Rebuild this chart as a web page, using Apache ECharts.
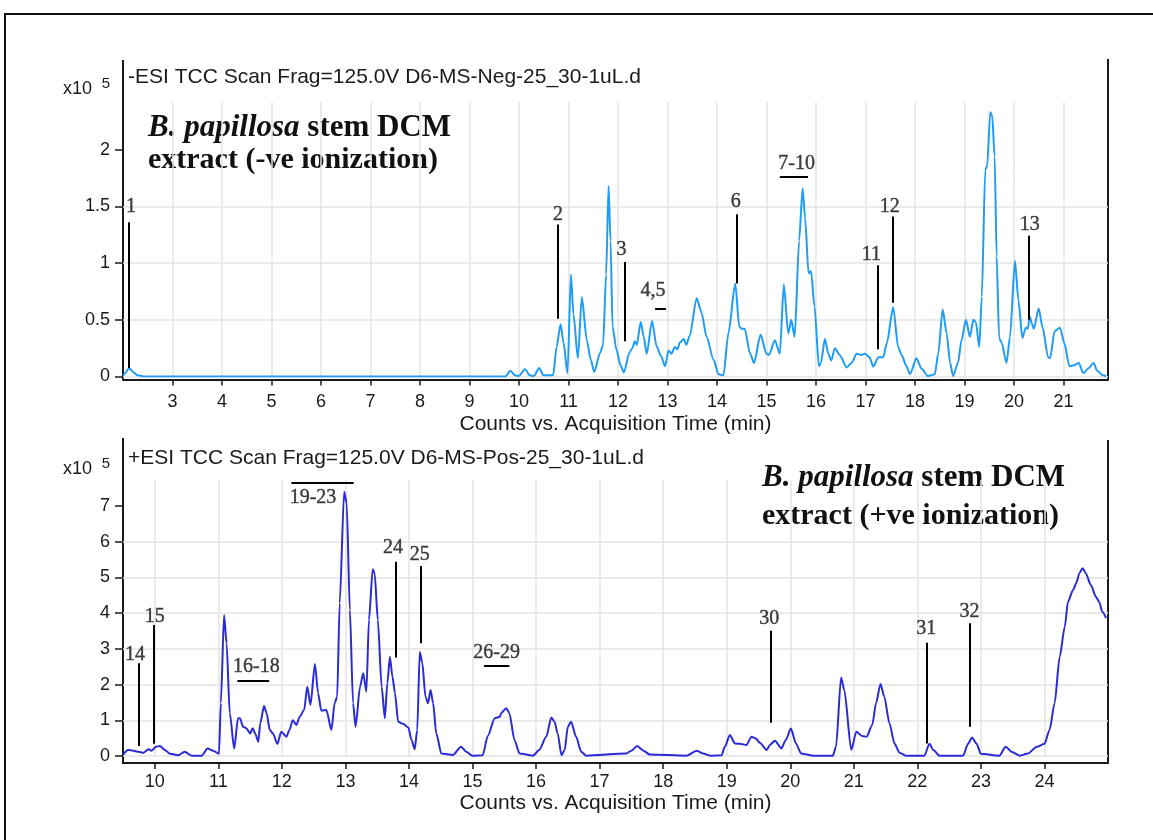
<!DOCTYPE html>
<html><head><meta charset="utf-8">
<script src="https://cdn.jsdelivr.net/npm/echarts@6/dist/echarts.min.js"></script>
<style>html,body{margin:0;padding:0;background:#fff}#c{width:1153px;height:840px}</style>
</head><body><div id="c"></div>
<script>
// ---------- Negative ionization chromatogram (x10^5 counts) ----------
const negTime = [2.0,2.05,2.1,2.14,2.2,2.3,2.45,9.72,9.83,9.92,10.0,10.12,10.22,10.3,10.41,10.49,10.69,10.76,10.84,10.9,10.98,11.05,11.1,11.19,11.27,11.37,11.45,11.52,11.64,11.70,11.76,11.81,11.85,11.89,11.97,12.05,12.12,12.23,12.29,12.34,12.38,12.46,12.52,12.58,12.69,12.78,12.87,12.95,13.02,13.08,13.15,13.2,13.25,13.33,13.38,13.45,13.59,13.69,13.79,13.93,14.03,14.13,14.23,14.37,14.45,14.5,14.56,14.67,14.75,14.88,15.0,15.05,15.17,15.27,15.35,15.44,15.5,15.57,15.66,15.73,15.78,15.85,15.9,15.97,16.06,16.1,16.18,16.25,16.31,16.38,16.48,16.62,16.72,16.82,16.92,16.99,17.08,17.16,17.26,17.36,17.43,17.56,17.66,17.73,17.83,17.9,18.03,18.13,18.26,18.4,18.47,18.56,18.64,18.71,18.77,18.87,18.94,19.03,19.11,19.18,19.23,19.30,19.35,19.42,19.46,19.52,19.56,19.61,19.65,19.70,19.75,19.85,19.92,20.02,20.09,20.17,20.24,20.28,20.32,20.36,20.40,20.50,20.58,20.69,20.73,20.82,20.93,21.02,21.12,21.21,21.31,21.4,21.5,21.61,21.68,21.80,21.86];
const negVal  = [0.01,0.03,0.065,0.07,0.04,0.01,0.0,0.0,0.05,0.01,0.005,0.065,0.01,0.005,0.075,0.01,0.01,0.26,0.46,0.3,0.03,0.9,0.55,0.16,0.7,0.32,0.15,0.04,0.21,0.28,0.9,1.68,1.2,0.44,0.235,0.1,0.035,0.21,0.25,0.31,0.28,0.48,0.35,0.2,0.49,0.265,0.18,0.09,0.23,0.2,0.26,0.24,0.3,0.33,0.28,0.36,0.69,0.56,0.35,0.15,0.02,0.01,0.38,0.82,0.44,0.42,0.42,0.2,0.12,0.37,0.2,0.19,0.32,0.2,0.81,0.38,0.5,0.35,1.2,1.66,1.4,0.91,0.93,0.62,0.09,0.12,0.33,0.2,0.14,0.25,0.19,0.08,0.12,0.2,0.19,0.2,0.17,0.087,0.17,0.17,0.29,0.61,0.26,0.19,0.09,0.02,0.16,0.07,0.005,0.02,0.2,0.59,0.38,0.12,0.005,0.12,0.32,0.5,0.35,0.5,0.48,0.26,0.7,1.82,1.86,2.33,2.3,1.94,1.06,0.34,0.3,0.12,0.35,1.02,0.675,0.34,0.43,0.42,0.53,0.47,0.42,0.6,0.43,0.17,0.16,0.4,0.43,0.29,0.09,0.1,0.12,0.03,0.07,0.12,0.05,0.01,0.0];

// ---------- Positive ionization chromatogram (x10^5 counts) ----------
const posTime = [9.5,9.58,9.66,9.74,9.82,9.9,9.95,10.02,10.08,10.16,10.24,10.37,10.47,10.58,10.74,10.83,10.92,11.01,11.04,11.09,11.13,11.18,11.25,11.31,11.34,11.39,11.44,11.5,11.54,11.58,11.63,11.66,11.72,11.76,11.81,11.86,11.93,11.99,12.07,12.12,12.17,12.23,12.28,12.35,12.4,12.45,12.52,12.57,12.62,12.7,12.78,12.83,12.87,12.91,12.98,13.02,13.07,13.12,13.16,13.23,13.28,13.33,13.37,13.43,13.46,13.51,13.57,13.62,13.66,13.7,13.74,13.78,13.83,13.91,13.99,14.04,14.09,14.13,14.17,14.21,14.26,14.3,14.34,14.38,14.43,14.51,14.69,14.82,14.9,15.0,15.16,15.24,15.35,15.43,15.45,15.53,15.58,15.66,15.74,15.95,16.05,16.16,16.24,16.29,16.34,16.4,16.45,16.5,16.55,16.63,16.71,16.79,17.42,17.5,17.59,17.69,17.79,18.37,18.53,18.63,18.74,18.92,18.97,19.05,19.13,19.21,19.31,19.39,19.46,19.52,19.63,19.68,19.76,19.86,19.93,20.01,20.09,20.17,20.35,20.67,20.72,20.8,20.85,20.96,21.04,21.13,21.2,21.29,21.35,21.42,21.48,21.56,21.64,21.72,21.82,22.11,22.19,22.25,22.35,22.72,22.8,22.86,22.93,23.0,23.29,23.39,23.48,23.61,23.74,23.88,24.0,24.08,24.16,24.24,24.32,24.37,24.45,24.5,24.55,24.6,24.65,24.73,24.81,24.86,24.91,24.97];
const posVal  = [0.03,0.17,0.15,0.12,0.09,0.19,0.15,0.26,0.28,0.17,0.06,0.02,0.12,0.01,0.01,0.21,0.15,0.06,1.48,3.95,3.16,1.2,0.21,1.06,1.06,0.82,0.78,0.63,0.78,0.63,0.4,0.92,1.4,1.2,0.73,0.63,0.34,0.68,0.54,0.73,1.0,0.87,1.1,1.29,1.94,1.43,2.58,1.76,1.27,1.29,0.73,1.48,1.66,4.28,7.4,7.08,4.09,1.48,0.82,1.94,2.32,1.8,3.81,5.23,5.12,3.81,1.94,1.06,2.04,2.78,2.22,1.76,0.96,0.9,0.8,0.45,0.19,0.73,2.92,2.6,1.66,1.48,1.85,1.48,0.63,0.07,0.03,0.26,0.12,0.01,0.02,0.56,1.06,1.1,1.2,1.34,1.2,0.45,0.07,0.01,0.17,0.54,1.08,0.96,0.63,0.02,0.17,0.82,0.96,0.54,0.12,0.01,0.07,0.15,0.28,0.15,0.04,0.01,0.15,0.07,0.01,0.02,0.26,0.59,0.35,0.34,0.31,0.54,0.49,0.37,0.17,0.31,0.43,0.21,0.45,0.77,0.35,0.07,0.01,0.01,0.26,2.2,1.85,0.17,0.68,0.56,0.54,0.87,1.48,2.02,1.66,0.92,0.35,0.09,0.01,0.01,0.34,0.17,0.01,0.01,0.35,0.52,0.35,0.06,0.01,0.26,0.12,0.01,0.07,0.26,0.34,0.73,1.48,2.78,3.62,4.32,4.65,4.84,5.12,5.26,5.12,4.79,4.46,4.32,4.04,3.86];

// ---------- Peak annotations ----------
const negLabelText = ['1','2','3','4,5','6','7-10','11','12','13'];
const negLabelT    = [2.16,10.79,12.07,12.71,14.38,15.61,17.12,17.49,20.32];
const negLabelV    = [1.5,1.43,1.12,0.76,1.54,1.88,1.07,1.5,1.34];
const negLeadT     = [2.12,10.78,12.14,14.40,17.24,17.55,20.30];
const negLeadTop   = [1.36,1.34,1.01,1.43,0.98,1.41,1.24];
const negLeadBot   = [0.075,0.51,0.31,0.82,0.24,0.65,0.50];
const negBarStart  = [12.75,15.27];
const negBarEnd    = [12.97,15.84];
const negBarV      = [0.6,1.76];

const posLabelText = ['14','15','16-18','19-23','24','25','26-29','30','31','32'];
const posLabelT    = [9.69,10.0,11.6,12.49,13.75,14.17,15.38,19.67,22.14,22.82];
const posLabelV    = [2.83,3.9,2.5,7.22,5.82,5.63,2.88,3.83,3.56,4.04];
const posLeadT     = [9.74,9.98,13.79,14.19,19.69,22.15,22.82];
const posLeadTop   = [2.6,3.67,5.44,5.32,3.51,3.17,3.72];
const posLeadBot   = [0.28,0.34,2.76,3.16,0.93,0.35,0.82];
const posBarStart  = [11.3,12.15,15.18];
const posBarEnd    = [11.8,13.13,15.58];
const posBarV      = [2.1,7.64,2.52];

const negTicksY = [0,0.5,1,1.5,2];
const posTicksY = [0,1,2,3,4,5,6,7];

// ---------- build ----------
const zip = (a,b) => a.map((v,i)=>[v,b[i]]);
const SANS = '"Liberation Sans", Arial, sans-serif';
const SERIF = '"Liberation Serif", "Times New Roman", serif';
const INK = '#1a1a1a';
const GRIDC = '#e3e3e3';

function leaders(T, top, bot){ return T.map((t,i)=>({coords:[[t,top[i]],[t,bot[i]]]})); }
function bars(s, e, v){ return s.map((t,i)=>({coords:[[t,v[i]],[e[i],v[i]]]})); }
function labels(txt, T, V){ return txt.map((s,i)=>[T[i],V[i],s]); }

function xAxisCfg(idx, opts){
  return Object.assign({
    gridIndex: idx, type:'value',
    axisLine:{show:true, onZero:false, lineStyle:{color:INK, width:2}},
    axisTick:{show:true, length:6, lineStyle:{color:INK, width:1.5}},
    splitLine:{show:true, showMinLine:false, showMaxLine:false, lineStyle:{color:GRIDC, width:1.5}},
    name:'Counts vs. Acquisition Time (min)', nameLocation:'middle',
    nameTextStyle:{fontSize:21, color:INK, fontFamily:SANS}
  }, opts);
}
function yAxisCfg(idx, opts, ticks){
  return Object.assign({
    gridIndex: idx, type:'value', min:0,
    axisLine:{show:false},
    axisTick:{show:true, length:8, customValues:ticks, lineStyle:{color:INK, width:1.5}},
    axisLabel:{customValues:ticks, margin:13, fontSize:18, color:INK, fontFamily:SANS},
    splitLine:{show:true, showMaxLine:false, lineStyle:{color:GRIDC, width:1.5}}
  }, opts);
}
function lineSeries(xi, data, color){
  return {type:'line', xAxisIndex:xi, yAxisIndex:xi, data, showSymbol:false, symbol:'none',
    smooth:0.25, smoothMonotone:'x',
    lineStyle:{color, width:2}, itemStyle:{color}, z:3, animation:false};
}
function linesSeries(xi, data){
  return {type:'lines', coordinateSystem:'cartesian2d', xAxisIndex:xi, yAxisIndex:xi, data,
    lineStyle:{color:'#000', width:2, opacity:1}, symbol:['none','none'], z:5, animation:false};
}
function labelSeries(xi, data){
  return {type:'scatter', xAxisIndex:xi, yAxisIndex:xi, data, symbolSize:1,
    itemStyle:{color:'rgba(0,0,0,0)'}, z:6, animation:false, silent:true,
    label:{show:true, position:'inside', formatter:p=>p.value[2], fontFamily:SERIF, fontSize:20,
      color:'#111', textBorderColor:'#111', textBorderWidth:0.4}};
}

const chart = echarts.init(document.getElementById('c'), null, {renderer:'canvas'});

const titleText = (t, y) => ({type:'text', style:{text:t, x:128, y, verticalAlign:'middle', fill:INK, font:'21px '+SANS}});
const xten = (y) => ([
  {type:'text', style:{text:'x10', x:92, y, align:'right', verticalAlign:'middle', fill:INK, font:'18px '+SANS}},
  {type:'text', style:{text:'5', x:106, y:y-5, align:'center', verticalAlign:'middle', fill:INK, font:'15px '+SANS}}
]);
const bigNote = (x, y1, y2, line2) => ([
  {type:'text', style:{text:'{bi|B. papillosa}{b| stem DCM}', x, y:y1, verticalAlign:'middle',
    rich:{bi:{fontStyle:'italic', fontWeight:'bold', fontSize:31, fontFamily:SERIF, fill:'#111'},
          b:{fontWeight:'bold', fontSize:31, fontFamily:SERIF, fill:'#111'}}}},
  {type:'text', style:{text:line2, x, y:y2, verticalAlign:'middle', fill:'#111', font:'bold 30px '+SERIF}}
]);
const vline = (x, y1, y2) => ({type:'line', shape:{x1:x, y1, x2:x, y2}, style:{stroke:INK, lineWidth:2}});

chart.setOption({
  animation:false,
  backgroundColor:'#fff',
  grid:[
    {left:123, right:45, top:102, bottom:463.5},
    {left:123, right:45, top:480, bottom:84}
  ],
  xAxis:[
    xAxisCfg(0, {min:2, max:21.9, interval:1, offset:3, nameGap:34, axisLabel:{showMinLabel:false, showMaxLabel:false, margin:14, fontSize:18, color:INK, fontFamily:SANS}}),
    xAxisCfg(1, {min:9.5, max:25, minInterval:1, maxInterval:1, offset:7, nameGap:30, axisLabel:{showMinLabel:false, showMaxLabel:false, margin:10, fontSize:18, color:INK, fontFamily:SANS}})
  ],
  yAxis:[
    yAxisCfg(0, {max:2.42, interval:0.5}, negTicksY),
    yAxisCfg(1, {max:7.73, interval:1}, posTicksY)
  ],
  series:[
    lineSeries(0, zip(negTime, negVal), '#1e9cf6'),
    lineSeries(1, zip(posTime, posVal), '#2a2ad6'),
    linesSeries(0, leaders(negLeadT, negLeadTop, negLeadBot).concat(bars(negBarStart, negBarEnd, negBarV))),
    linesSeries(1, leaders(posLeadT, posLeadTop, posLeadBot).concat(bars(posBarStart, posBarEnd, posBarV))),
    labelSeries(0, labels(negLabelText, negLabelT, negLabelV)),
    labelSeries(1, labels(posLabelText, posLabelT, posLabelV))
  ],
  graphic:[
    {type:'rect', shape:{x:5, y:14, width:1200, height:900}, style:{fill:'none', stroke:'#111', lineWidth:2}},
    vline(123, 60, 380), vline(1108, 59, 380),
    vline(123, 438, 764), vline(1108, 440, 764),
    titleText('-ESI TCC Scan Frag=125.0V D6-MS-Neg-25_30-1uL.d', 77),
    titleText('+ESI TCC Scan Frag=125.0V D6-MS-Pos-25_30-1uL.d', 458),
    ...xten(89), ...xten(469),
    ...bigNote(148, 128, 160, 'extract (-ve ionization)'),
    ...bigNote(762, 478, 516, 'extract (+ve ionization)')
  ]
});
</script></body></html>
